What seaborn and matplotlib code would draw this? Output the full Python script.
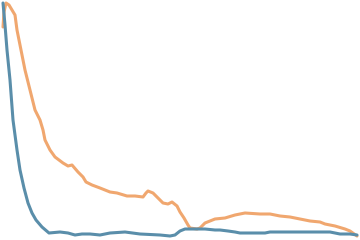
import matplotlib
matplotlib.use("Agg")
import matplotlib.pyplot as plt
import seaborn as sns
import pandas as pd

# values (x position, height above bottom)
blue_x = [3, 5, 7, 10, 13, 15, 17, 20, 24, 28, 32, 36, 42, 49, 60, 68, 75, 82, 90, 100,
          110, 125, 140, 160, 170, 175, 180, 185, 195, 205, 215, 220, 228, 235, 240, 265,
          270, 300, 330, 340, 350, 357]
blue_y = [237, 215, 190, 160, 120, 105, 90, 70, 52, 37, 27, 20, 13, 7, 8, 7, 5, 6, 6, 5,
          7, 8, 6, 5, 4, 5, 9, 11, 11, 11, 10, 10, 9, 8, 7, 7,
          8, 8, 8, 6, 6, 5]

orange_x = [3, 4, 6, 9, 12, 15, 17, 19, 22, 25, 30, 35, 40, 43, 45, 50, 55, 63, 68, 72,
            78, 83, 86, 92, 100, 110, 117, 127, 135, 143, 146, 148, 153, 157, 163, 168,
            172, 177, 180, 184, 188, 190, 197, 200, 205, 210, 215, 225, 235, 245, 260, 270,
            280, 290, 300, 310, 320, 325, 335, 345, 350, 357]
orange_y = [213, 228, 237, 235, 230, 225, 210, 200, 185, 170, 150, 130, 120, 110, 100, 90, 83, 77, 74, 75,
            68, 63, 58, 55, 52, 48, 47, 44, 44, 43, 47, 49, 47, 43, 37, 36,
            38, 34, 28, 22, 15, 12, 11, 12, 17, 19, 21, 22, 25, 27, 26, 26,
            24, 23, 21, 19, 18, 16, 14, 11, 9, 4]

df = pd.concat([
    pd.DataFrame({"x": orange_x, "y": orange_y, "s": "orange"}),
    pd.DataFrame({"x": blue_x, "y": blue_y, "s": "blue"}),
])

sns.set_theme(style="white")
fig = plt.figure(figsize=(3.6, 2.4), dpi=100)
ax = fig.add_axes([0, 0, 1, 1])
sns.lineplot(data=df, x="x", y="y", hue="s",
             palette={"orange": "#F0A76F", "blue": "#5A8EAA"},
             linewidth=2.2, legend=False, ax=ax, sort=True)
ax.set_xlim(0, 360)
ax.set_ylim(0, 240)
ax.axis("off")
fig.savefig("out.png", dpi=100)
